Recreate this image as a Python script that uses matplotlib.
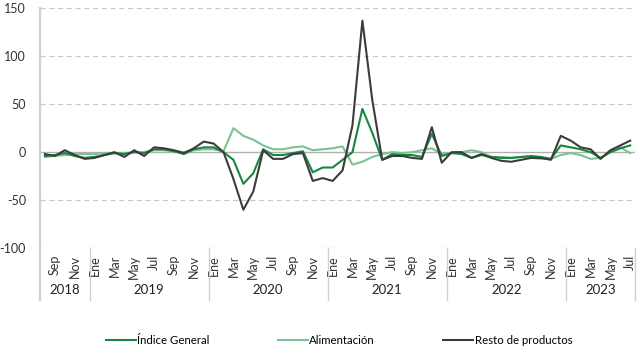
import matplotlib.pyplot as plt
from matplotlib.lines import Line2D
import matplotlib.transforms as mtransforms

plt.rcParams["font.family"] = ["Lato", "DejaVu Sans"]

# meses desde ago-2018 hasta jul-2023
MESES = ["Ene", "Feb", "Mar", "Abr", "May", "Jun", "Jul", "Ago", "Sep", "Oct", "Nov", "Dic"]
YEARS = [2018, 2019, 2020, 2021, 2022, 2023]
MONTHS_PER_YEAR = [5, 12, 12, 12, 12, 7]

indice_general = [
    -4, -3, -1, -4, -6,
    -5, -3, -1, -2, 0, -1, 3, 3, 1, -2, 3, 5,
    5, 0, -8, -33, -22, 3, -3, -3, -1, 1, -21, -16,
    -16, -8, 0, 45, 20, -8, -2, -3, -3, -5, 19, -4,
    -1, -2, -6, -3, -5, -6, -6, -5, -4, -5, -7, 7,
    5, 3, 0, -6, 0, 4, 7,
]
alimentacion = [
    -5, -4, -3, -2, -2,
    -2, -1, -1, -1, 0, 0, 2, 2, 1, 0, 2, 3,
    3, 1, 25, 17, 13, 7, 3, 3, 5, 6, 2, 3,
    4, 6, -13, -10, -5, -2, 0, -1, 0, 2, 4, -2,
    -1, 0, 2, 0, -5, -5, -6, -5, -6, -7, -7, -3,
    -1, -3, -7, -6, 0, 5, -1,
]
resto = [
    -2, -4, 2, -3, -7,
    -6, -3, 0, -5, 2, -4, 5, 4, 2, -1, 4, 11,
    9, 0, -28, -60, -41, 2, -7, -7, -2, -1, -30, -27,
    -30, -19, 28, 137, 54, -8, -4, -4, -6, -7, 26, -11,
    0, 0, -6, -2, -6, -9, -10, -8, -6, -6, -8, 17,
    12, 5, 3, -7, 2, 7, 12,
]

YTICKS = [-100, -50, 0, 50, 100, 150]

C_GEN = "#17873f"
C_ALI = "#7cc293"
C_RES = "#3c3c3c"

# etiquetas de meses
months = []
for year, n in zip(YEARS, MONTHS_PER_YEAR):
    start = 7 if year == 2018 else 0
    months += MESES[start:start + n]
x = list(range(len(months)))

fig = plt.figure(figsize=(6.4, 3.55), dpi=100)
ax = fig.add_axes([0.0625, 0.301, 0.93, 0.676])

for y in YTICKS:
    if y == 0:
        ax.axhline(0, color="#b0b0b0", lw=1.0, zorder=1)
    else:
        ax.axhline(y, color="#c8c8c8", lw=0.9, ls=(0, (4, 3)), zorder=1)

ax.plot(x, indice_general, color=C_GEN, lw=1.5, label="Índice General", zorder=3)
ax.plot(x, alimentacion, color=C_ALI, lw=1.5, label="Alimentación", zorder=2)
ax.plot(x, resto, color=C_RES, lw=1.5, label="Resto de productos", zorder=4)

ax.set_xlim(-0.5, len(x) - 0.5)
ax.set_ylim(-100, 150)
ax.set_yticks(YTICKS)
ax.set_yticklabels([str(v) for v in YTICKS], fontsize=9, color="#333333")

# marcas del eje x: meses impares (Sep, Nov, Ene, ...)
tick_pos = [i for i in x if i % 2 == 1]
ax.set_xticks(tick_pos)
ax.set_xticklabels([months[i] for i in tick_pos], rotation=90, fontsize=9, color="#333333")
ax.tick_params(axis="both", length=0)
ax.tick_params(axis="x", pad=5)
ax.tick_params(axis="y", pad=10)

for side in ["top", "right", "bottom"]:
    ax.spines[side].set_visible(False)
ax.spines["left"].set_color("#d0d0d0")
ax.spines["left"].set_linewidth(1.6)

# años y separadores
trans = mtransforms.blended_transform_factory(ax.transData, ax.transAxes)
start = -0.5
for year, n in zip(YEARS, MONTHS_PER_YEAR):
    end = start + n
    ax.text((start + end) / 2, -0.175, str(year), transform=trans, ha="center", va="center",
            fontsize=9.5, color="#222222")
    ax.add_line(Line2D([end, end], [0, -0.215], transform=trans, color="#d0d0d0", lw=1.0, clip_on=False))
    start = end
ax.add_line(Line2D([-0.5, -0.5], [0, -0.215], transform=trans, color="#d0d0d0", lw=1.6, clip_on=False))

fig.legend(loc="center", bbox_to_anchor=(0.53, 0.04), ncol=3, frameon=False, fontsize=8.2,
           handlelength=2.6, handletextpad=0.15, columnspacing=6.0)

fig.savefig("out.png", dpi=100)
